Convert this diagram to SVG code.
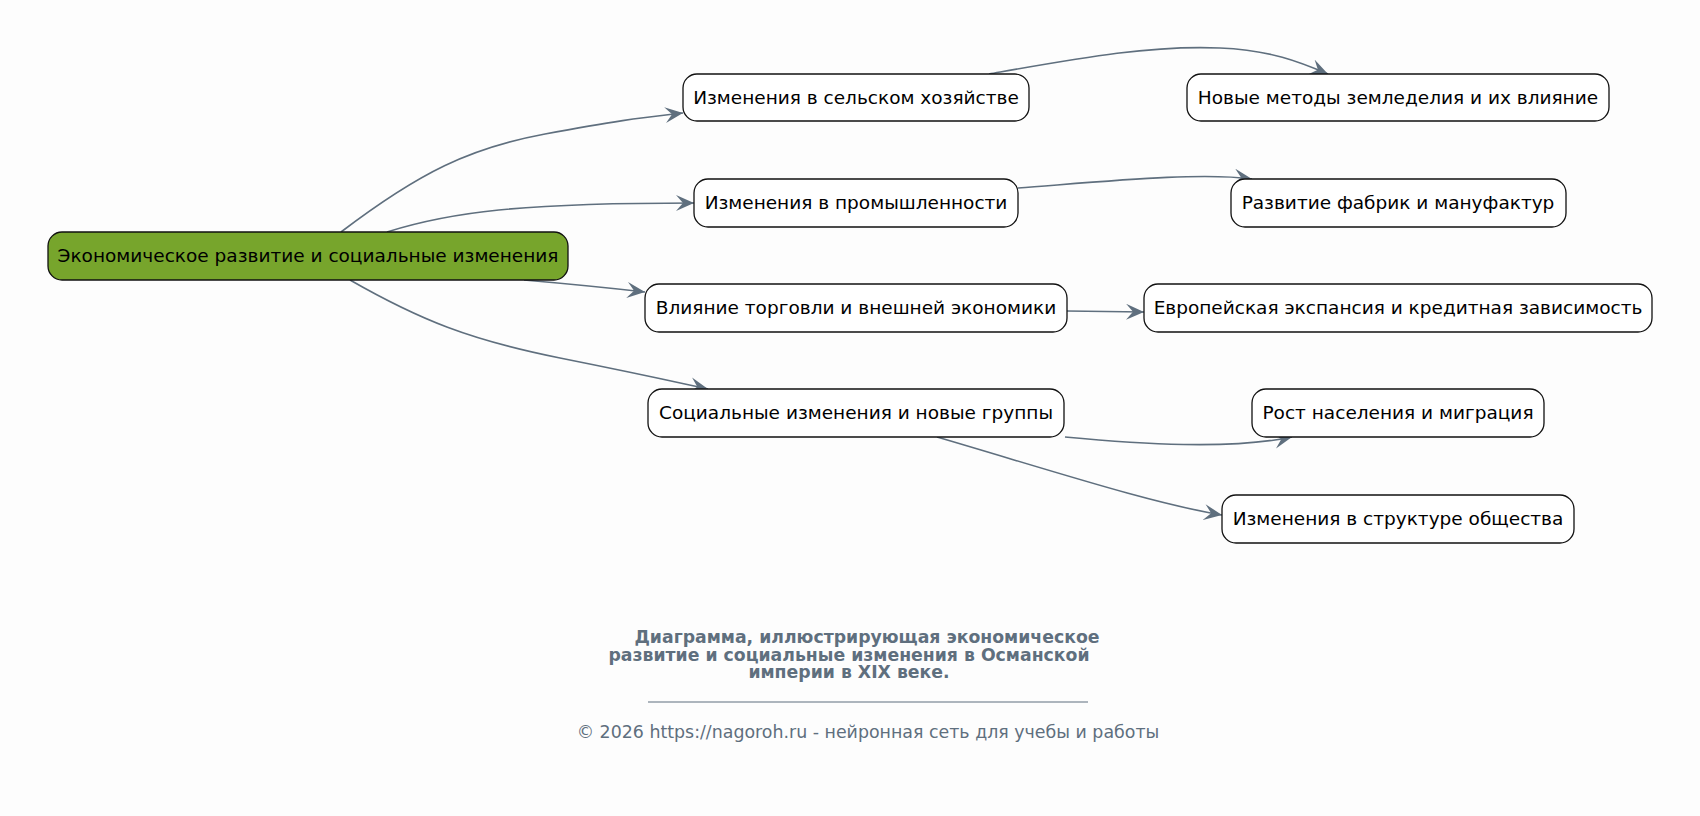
<svg xmlns="http://www.w3.org/2000/svg" width="1700" height="816" viewBox="0 0 1700 816">
<style>
.n rect{fill:#ffffff;stroke:#111111;stroke-width:1.3}
.n text{font-family:"DejaVu Sans",sans-serif;font-size:18.5px;fill:#000;text-anchor:middle}
#root rect{fill:#77a52c}
.e path{fill:none;stroke:#5f6f7e;stroke-width:1.6}
.ft{font-family:"DejaVu Sans",sans-serif;fill:#5f6f7e;text-anchor:middle}
</style>
<defs>
<marker id="ar" markerUnits="userSpaceOnUse" markerWidth="20" markerHeight="18" refX="18" refY="8" orient="auto">
<path d="M0,0 L18,8 L0,16 L7,8 z" fill="#5f6f7e"/>
</marker>
</defs>
<rect width="1700" height="816" fill="#fdfdfd"/>
<g class="e">
<path d="M341,232 C420,172 470,148 545,134 S640,118 683,113" marker-end="url(#ar)"/>
<path d="M387,232 C450,212 520,203 694,203" marker-end="url(#ar)"/>
<path d="M524,280 C570,284 610,288 645,292" marker-end="url(#ar)"/>
<path d="M350,280 C420,320 470,340 560,358 S680,383 708,389" marker-end="url(#ar)"/>
<path d="M989,74 C1080,58 1150,45 1220,48 C1270,50 1300,62 1328,74" marker-end="url(#ar)"/>
<path d="M1018,188 C1110,181 1200,172 1252,179" marker-end="url(#ar)"/>
<path d="M1067,311 L1144,312" marker-end="url(#ar)"/>
<path d="M1065,437 C1140,444 1230,450 1292,437" marker-end="url(#ar)"/>
<path d="M937,437 C1050,470 1150,503 1222,515" marker-end="url(#ar)"/>
</g>
<g id="root" class="n"><rect x="48" y="232" width="520" height="48" rx="14"/><text x="308" y="262">Экономическое развитие и социальные изменения</text></g>
<g id="n1" class="n"><rect x="683" y="74" width="346" height="47" rx="14"/><text x="856" y="104">Изменения в сельском хозяйстве</text></g>
<g id="n2" class="n"><rect x="694" y="179" width="324" height="48" rx="14"/><text x="856" y="209">Изменения в промышленности</text></g>
<g id="n3" class="n"><rect x="645" y="284" width="422" height="48" rx="14"/><text x="856" y="314">Влияние торговли и внешней экономики</text></g>
<g id="n4" class="n"><rect x="648" y="389" width="416" height="48" rx="14"/><text x="856" y="419">Социальные изменения и новые группы</text></g>
<g id="n5" class="n"><rect x="1187" y="74" width="422" height="47" rx="14"/><text x="1398" y="104">Новые методы земледелия и их влияние</text></g>
<g id="n6" class="n"><rect x="1231" y="179" width="335" height="48" rx="14"/><text x="1398" y="209">Развитие фабрик и мануфактур</text></g>
<g id="n7" class="n"><rect x="1144" y="284" width="508" height="48" rx="14"/><text x="1398" y="314">Европейская экспансия и кредитная зависимость</text></g>
<g id="n8" class="n"><rect x="1252" y="389" width="292" height="48" rx="14"/><text x="1398" y="419">Рост населения и миграция</text></g>
<g id="n9" class="n"><rect x="1222" y="495" width="352" height="48" rx="14"/><text x="1398" y="525">Изменения в структуре общества</text></g>
<g id="footer">
<text class="ft" font-weight="bold" font-size="17.3" x="867" y="643">Диаграмма, иллюстрирующая экономическое</text>
<text class="ft" font-weight="bold" font-size="17.3" x="849" y="661">развитие и социальные изменения в Османской</text>
<text class="ft" font-weight="bold" font-size="17.3" x="849" y="678">империи в XIX веке.</text>
<line x1="648" y1="702" x2="1088" y2="702" stroke="#5f6f7e" stroke-width="1.2"/>
<text class="ft" font-size="17.4" x="868" y="738">© 2026 https://nagoroh.ru - нейронная сеть для учебы и работы</text>
</g>
</svg>
